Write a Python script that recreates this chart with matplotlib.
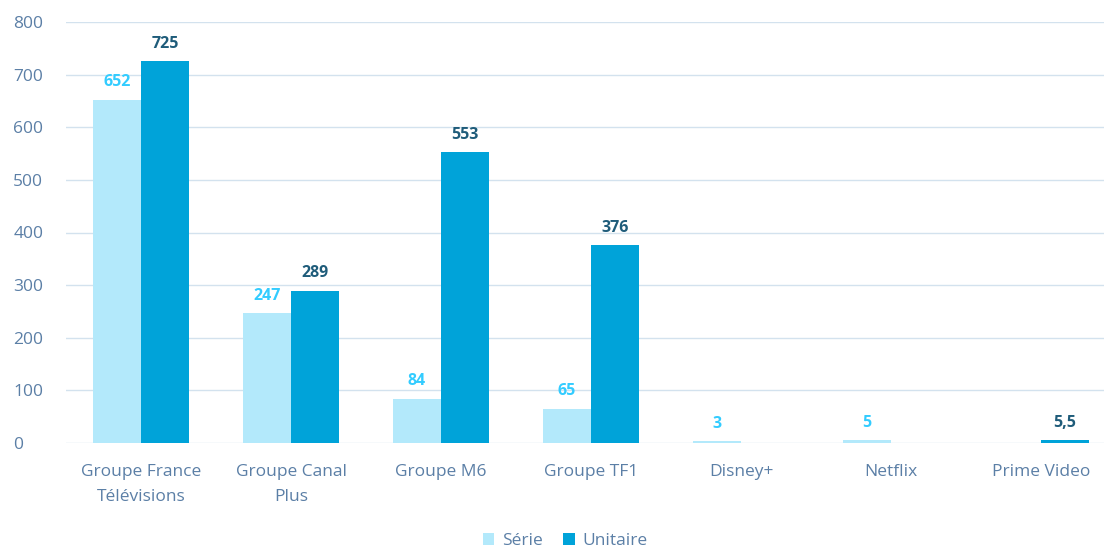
import matplotlib
matplotlib.use("Agg")
import matplotlib.pyplot as plt
import numpy as np

categories = ["Groupe France\nTélévisions", "Groupe Canal\nPlus", "Groupe M6", "Groupe TF1",
              "Disney+", "Netflix", "Prime Video"]
serie = [652, 247, 84, 65, 3, 5, 0]
unitaire = [725, 289, 553, 376, 0, 0, 5.5]
serie_labels = ["652", "247", "84", "65", "3", "5", ""]
unitaire_labels = ["725", "289", "553", "376", "", "", "5,5"]
yticks = [0, 100, 200, 300, 400, 500, 600, 700, 800]

plt.rcParams['font.family'] = ['Open Sans', 'DejaVu Sans']

c_serie = "#B3E9FB"
c_unit = "#00A3D9"
c_tick = "#5B7FA6"
c_grid = "#D3E2EE"

fig = plt.figure(figsize=(11.04, 5.51), dpi=100)
ax = fig.add_axes([66/1104, 1-443/551, 1-66/1104, (443-22)/551])

x = np.arange(len(categories))
w = 0.32
b1 = ax.bar(x - w/2, serie, w, color=c_serie, zorder=3)
b2 = ax.bar(x + w/2, unitaire, w, color=c_unit, zorder=3)

for xi, v, lab in zip(x, serie, serie_labels):
    if lab:
        ax.text(xi - w/2, v + 18, lab, ha='center', va='bottom', color="#33CCFF",
                fontsize=11.5, fontweight='bold')
for xi, v, lab in zip(x, unitaire, unitaire_labels):
    if lab:
        ax.text(xi + w/2, v + 18, lab, ha='center', va='bottom', color="#1F5C7A",
                fontsize=11.5, fontweight='bold')

ax.set_ylim(0, 800)
ax.set_xlim(-0.5, 6.5 - 12/150)
ax.set_yticks(yticks)
ax.set_yticklabels([str(t) for t in yticks])
ax.set_xticks(x)
ax.set_xticklabels(categories, linespacing=1.75)
ax.tick_params(axis='both', length=0, colors=c_tick, labelsize=12.5)
ax.tick_params(axis='x', pad=15)
ax.tick_params(axis='y', pad=38)
for lab in ax.get_yticklabels():
    lab.set_horizontalalignment('left')
ax.yaxis.grid(True, color=c_grid, linewidth=1, zorder=0)
for s in ax.spines.values():
    s.set_visible(False)

leg = fig.legend([b1, b2], ["Série", "Unitaire"], loc='center', bbox_to_anchor=(0.512, 1-541/551),
                 ncol=2, frameon=False, fontsize=12.5, handlelength=0.65, handleheight=0.65,
                 handletextpad=0.45, columnspacing=1.2)
for t in leg.get_texts():
    t.set_color(c_tick)

fig.savefig("out.png", dpi=100)
